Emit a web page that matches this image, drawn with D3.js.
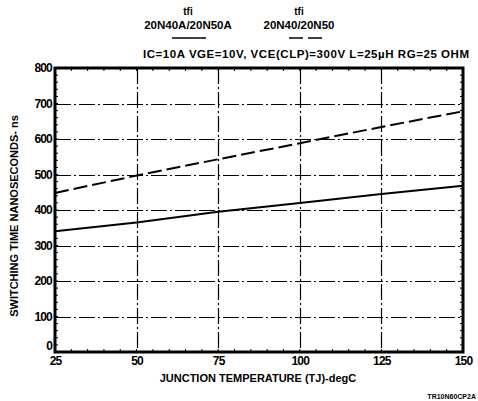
<!DOCTYPE html>
<html>
<head>
<meta charset="utf-8">
<script src="https://cdn.jsdelivr.net/npm/d3@7"></script>
<style>
  body { margin: 0; background: #fff; }
  svg text { font-family: "Liberation Sans", Arial, sans-serif; font-weight: bold; fill: #000; }
</style>
</head>
<body>
<svg id="chart" width="478" height="401"></svg>
<script>
// --- data ---
const temps = [25, 50, 75, 100, 125, 150];
const tfiA = [340, 365, 395, 420, 445, 468];   // 20N40A/20N50A (solid)
const tfiB = [448, 497, 543, 588, 634, 678];   // 20N40/20N50 (dashed)
const xTicks = [25, 50, 75, 100, 125, 150];
const yTicks = [0, 100, 200, 300, 400, 500, 600, 700, 800];

const svg = d3.select("#chart");
const m = { left: 55, right: 463, top: 68, bottom: 352 };

const x = d3.scaleLinear().domain([25, 150]).range([m.left, m.right]);
const y = d3.scaleLinear().domain([0, 800]).range([m.bottom, m.top]);

// grid, dash-dot like the print
const grid = svg.append("g").attr("class", "grid");
grid.selectAll("line.gx").data(xTicks.slice(1, -1)).join("line")
  .attr("class", "gx")
  .attr("x1", d => Math.round(x(d)) + 0.5).attr("x2", d => Math.round(x(d)) + 0.5)
  .attr("y1", m.top).attr("y2", m.bottom)
  .attr("stroke", "#000").attr("stroke-width", 1.2).attr("stroke-dasharray", "16,3,2,3");
grid.selectAll("line.gy").data(yTicks.slice(1, -1)).join("line")
  .attr("class", "gy")
  .attr("y1", d => Math.round(y(d)) + 0.5).attr("y2", d => Math.round(y(d)) + 0.5)
  .attr("x1", m.left).attr("x2", m.right)
  .attr("stroke", "#000").attr("stroke-width", 1.2).attr("stroke-dasharray", "16,3,2,3");

// minor ticks on all four sides
const minorX = d3.range(25, 151, 5);
const minorY = d3.range(0, 801, 20);
const ticks = svg.append("g").attr("stroke", "#000").attr("stroke-width", 1);
minorX.forEach(v => {
  ticks.append("line").attr("x1", x(v)).attr("x2", x(v)).attr("y1", m.bottom).attr("y2", m.bottom - 3);
  ticks.append("line").attr("x1", x(v)).attr("x2", x(v)).attr("y1", m.top).attr("y2", m.top + 3);
});
minorY.forEach(v => {
  ticks.append("line").attr("y1", y(v)).attr("y2", y(v)).attr("x1", m.left).attr("x2", m.left + 3);
  ticks.append("line").attr("y1", y(v)).attr("y2", y(v)).attr("x1", m.right).attr("x2", m.right - 3);
});

// frame
svg.append("rect")
  .attr("x", m.left).attr("y", m.top)
  .attr("width", m.right - m.left).attr("height", m.bottom - m.top)
  .attr("fill", "none").attr("stroke", "#000").attr("stroke-width", 3);

// axes labels via d3 axes (domain hidden)
const xAxis = svg.append("g").attr("transform", `translate(0,${m.bottom})`)
  .call(d3.axisBottom(x).tickValues(xTicks).tickSize(0).tickPadding(4));
const yAxis = svg.append("g").attr("transform", `translate(${m.left},0)`)
  .call(d3.axisLeft(y).tickValues(yTicks).tickSize(0).tickPadding(3));
[xAxis, yAxis].forEach(a => {
  a.select(".domain").remove();
  a.selectAll("text").attr("font-size", 12).attr("font-family", "Liberation Sans, Arial, sans-serif")
    .attr("font-weight", "bold").attr("fill", "#000").attr("letter-spacing", "-0.8");
});
// the "0" sits a little above the corner, as in the print
yAxis.selectAll(".tick").filter(d => d === 0).select("text").attr("dy", "-0.2em");

// curves
const line = d3.line().x((d, i) => x(temps[i])).y(d => y(d));
svg.append("path").datum(tfiA).attr("d", line)
  .attr("fill", "none").attr("stroke", "#000").attr("stroke-width", 2);
svg.append("path").datum(tfiB).attr("d", line)
  .attr("fill", "none").attr("stroke", "#000").attr("stroke-width", 2)
  .attr("stroke-dasharray", "14,5");

// legend
svg.append("text").attr("x", 188).attr("y", 15).attr("text-anchor", "middle").attr("font-size", 10).text("tfi");
svg.append("text").attr("x", 188).attr("y", 29).attr("text-anchor", "middle").attr("font-size", 11.5).text("20N40A/20N50A");
svg.append("line").attr("x1", 172).attr("x2", 206).attr("y1", 38).attr("y2", 38)
  .attr("stroke", "#000").attr("stroke-width", 1.5);
svg.append("text").attr("x", 299).attr("y", 15).attr("text-anchor", "middle").attr("font-size", 10).text("tfi");
svg.append("text").attr("x", 299).attr("y", 29).attr("text-anchor", "middle").attr("font-size", 11.5).text("20N40/20N50");
svg.append("line").attr("x1", 289).attr("x2", 327).attr("y1", 38).attr("y2", 38)
  .attr("stroke", "#000").attr("stroke-width", 1.5).attr("stroke-dasharray", "14,5");

svg.append("text").attr("x", 306).attr("y", 58).attr("text-anchor", "middle").attr("font-size", 11.5)
  .attr("textLength", 326)
  .text("IC=10A VGE=10V, VCE(CLP)=300V  L=25\u00b5H  RG=25 OHM");

// axis titles
svg.append("text").attr("x", 258).attr("y", 382).attr("text-anchor", "middle").attr("font-size", 11)
  .text("JUNCTION TEMPERATURE (TJ)-degC");
svg.append("text").attr("transform", "translate(18,216) rotate(-90)").attr("text-anchor", "middle")
  .attr("font-size", 11).text("SWITCHING TIME NANOSECONDS- ns");

svg.append("text").attr("x", 476).attr("y", 399).attr("text-anchor", "end").attr("font-size", 7)
  .text("TR10N60CP2A");
</script>
</body>
</html>
